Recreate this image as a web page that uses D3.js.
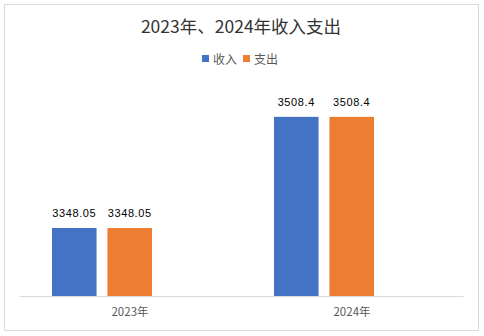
<!DOCTYPE html>
<html><head><meta charset="utf-8">
<script src="https://cdn.jsdelivr.net/npm/d3@7"></script>
<style>body{margin:0;background:#fff}svg{display:block}</style>
</head><body>
<svg id="c" width="484" height="336"></svg>
<script>
const title = "2023年、2024年收入支出";
const categories = ["2023年", "2024年"];
const seriesNames = ["收入", "支出"];
const income = [3348.05, 3508.4];
const expense = [3348.05, 3508.4];
const valueLabels = [["3348.05", "3508.4"], ["3348.05", "3508.4"]];
const colors = ["#4472C4", "#ED7D31"];
const yDomain = [3250, 3550];

(function () {
const series = [income, expense];
const svg = d3.select("#c");
const font = "'Noto Sans CJK SC', 'Microsoft YaHei', sans-serif";

svg.append("rect").attr("x", 4.5).attr("y", 4.5).attr("width", 474).attr("height", 326)
  .attr("fill", "#fff").attr("stroke", "#d9d9d9");

svg.append("text").attr("x", 241).attr("y", 33).attr("text-anchor", "middle")
  .attr("font-family", font).attr("font-size", 17.5).attr("fill", "#333").text(title);

// legend
const legend = svg.append("g");
const lx = [202, 243];
seriesNames.forEach((n, i) => {
  legend.append("rect").attr("x", lx[i]).attr("y", 55).attr("width", 7).attr("height", 7).attr("fill", colors[i]);
  legend.append("text").attr("x", lx[i] + 11).attr("y", 63.5).attr("font-family", font)
    .attr("font-size", 12).attr("fill", "#595959").text(n);
});

const pLeft = 19, pRight = 463, pTop = 88, pBottom = 296;
const x = d3.scaleBand().domain(categories).range([pLeft, pRight]);
const shift = 28;
const xb = d3.scaleBand().domain(categories).range([pLeft - shift, pRight - shift]);
const y = d3.scaleLinear().domain(yDomain).range([pBottom, pTop]);

const groupW = 100;
const sub = d3.scaleBand().domain(d3.range(series.length)).range([-groupW / 2, groupW / 2]).paddingInner(11 / 56);

series.forEach((vals, si) => {
  vals.forEach((v, ci) => {
    const cx = xb(categories[ci]) + xb.bandwidth() / 2;
    const bx = cx + sub(si);
    svg.append("rect").attr("x", bx).attr("y", y(v)).attr("width", sub.bandwidth())
      .attr("height", y(yDomain[0]) - y(v)).attr("fill", colors[si]);
    svg.append("text").attr("x", bx + sub.bandwidth() / 2).attr("y", y(v) - 11)
      .attr("text-anchor", "middle").attr("font-family", "'Liberation Sans', Arial, sans-serif")
      .attr("font-size", 11).attr("letter-spacing", 0.6).attr("fill", "#000").text(valueLabels[si][ci]);
  });
});

// axis
const axis = svg.append("g").attr("transform", `translate(0,${pBottom})`)
  .call(d3.axisBottom(x).tickSize(0).tickPadding(12));
axis.select(".domain").attr("stroke", "#d9d9d9");
axis.selectAll("text").attr("font-family", font).attr("font-size", 11.5).attr("fill", "#595959");
})();
</script>
</body></html>
